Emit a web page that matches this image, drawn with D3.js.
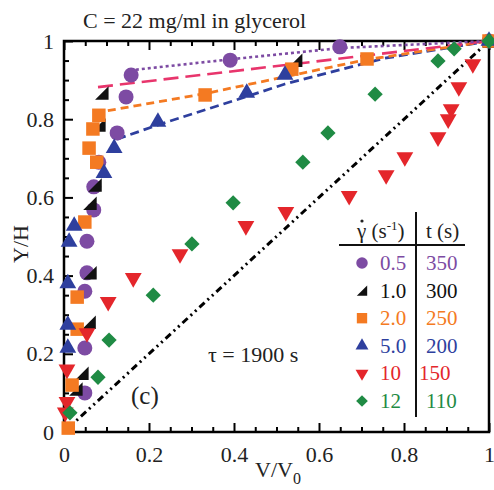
<!DOCTYPE html>
<html>
<head>
<meta charset="utf-8">
<script src="https://cdn.jsdelivr.net/npm/d3@7"></script>
<style>
  html, body { margin: 0; padding: 0; background: #fff; }
  svg { display: block; }
  svg text { font-family: "Liberation Serif", "Times New Roman", Times, "DejaVu Serif", serif !important; }
</style>
</head>
<body>
<svg id="chart" width="494" height="490"></svg>
<script>
// Velocity profiles V/V0 vs Y/H for several shear rates
const rates = ["0.5", "1.0", "2.0", "5.0", "10", "12"];
const times = ["350", "300", "250", "200", "150", "110"];
const colors = ["#7d4ba3", "#111111", "#f47a22", "#2e3f9e", "#e4262b", "#1f8b44"];
const shapes = ["circle", "wedge", "square", "triangle", "down", "diamond"];

const pts05 = [[0.049,0.10],[0.049,0.215],[0.049,0.36],[0.054,0.407],[0.054,0.488],[0.07,0.568],[0.07,0.627],[0.082,0.69],[0.125,0.765],[0.146,0.857],[0.158,0.913],[0.391,0.951],[0.649,0.985],[1,1]];
const pts10 = [[0.028,0.11],[0.042,0.15],[0.059,0.281],[0.061,0.407],[0.061,0.585],[0.073,0.632],[0.082,0.785],[0.089,0.867],[0.545,0.951],[1,1]];
const pts20 = [[0.01,0.01],[0.019,0.12],[0.031,0.263],[0.031,0.345],[0.049,0.537],[0.059,0.726],[0.068,0.775],[0.077,0.69],[0.082,0.81],[0.332,0.862],[0.536,0.928],[0.713,0.954],[1,1]];
const pts50 = [[0.009,0.215],[0.009,0.274],[0.009,0.38],[0.012,0.486],[0.024,0.527],[0.094,0.662],[0.118,0.726],[0.221,0.793],[0.43,0.867],[0.52,0.913],[1,1]];
const pts100 = [[0.003,0.05],[0.007,0.077],[0.007,0.16],[0.054,0.253],[0.104,0.333],[0.163,0.394],[0.273,0.455],[0.428,0.527],[0.522,0.563],[0.671,0.604],[0.758,0.657],[0.802,0.703],[0.88,0.754],[0.904,0.80],[0.911,0.826],[0.929,0.882],[0.962,0.941]];
const pts120 = [[0.014,0.049],[0.08,0.14],[0.106,0.235],[0.21,0.35],[0.301,0.481],[0.398,0.586],[0.562,0.69],[0.621,0.765],[0.732,0.864],[0.88,0.949],[0.918,0.98],[1,1]];
const seriesPts = [pts05, pts10, pts20, pts50, pts100, pts120];

// Fitted profiles in the plug-flow region and the Newtonian reference y = x
const fit05 = [[0.155,0.925],[0.39,0.953],[0.65,0.982],[1,1]];
const fit10 = [[0.08,0.882],[1,1]];
const fit20 = [[0.073,0.816],[0.33,0.865],[0.71,0.952],[1,1]];
const fit50 = [[0.125,0.749],[0.22,0.785],[0.43,0.858],[0.52,0.89],[0.75,0.955],[1,1]];
const linear = [[0,0],[1,1]];

const xTicks = [0, 0.2, 0.4, 0.6, 0.8, 1];
const yTicks = [0, 0.2, 0.4, 0.6, 0.8, 1];

const FONT = '"Liberation Serif", "Times New Roman", Times, "DejaVu Serif", serif';
const svg = d3.select("#chart").attr("font-family", FONT);
const x = d3.scaleLinear().domain([0, 1]).range([64, 489]);
const y = d3.scaleLinear().domain([0, 1]).range([432, 41]);
const line = d3.line().x(d => x(d[0])).y(d => y(d[1]));

// minor ticks every 0.05, inward
const minor = d3.range(0, 1.0001, 0.05);
const fmt = d => d === 0 || d === 1 ? String(d) : d.toFixed(1);

const gx = svg.append("g").attr("transform", `translate(0,${y(0)})`)
  .call(d3.axisBottom(x).tickValues(minor).tickSize(-5).tickFormat(""));
gx.select(".domain").remove();
gx.selectAll("line").attr("stroke", "#000").attr("stroke-width", 2)
  .attr("y2", (d, i) => (i % 4 === 0 ? -9 : -5));

const gxl = svg.append("g").attr("transform", `translate(0,${y(0)})`)
  .call(d3.axisBottom(x).tickValues(xTicks).tickSize(0).tickPadding(14).tickFormat(fmt))
  .attr("font-family", FONT);
gxl.select(".domain").remove();
gxl.selectAll("text").attr("font-size", 22).attr("fill", "#222");

const gt = svg.append("g").attr("transform", `translate(0,${y(1)})`)
  .call(d3.axisTop(x).tickValues(minor).tickSize(-5).tickFormat(""));
gt.select(".domain").remove();
gt.selectAll("line").attr("stroke", "#000").attr("stroke-width", 2)
  .attr("y2", (d, i) => (i % 4 === 0 ? 9 : 5));

const gy = svg.append("g").attr("transform", `translate(${x(0)},0)`)
  .call(d3.axisLeft(y).tickValues(minor).tickSize(-5).tickFormat(""));
gy.select(".domain").remove();
gy.selectAll("line").attr("stroke", "#000").attr("stroke-width", 2)
  .attr("x2", (d, i) => (i % 4 === 0 ? 9 : 5));

const gyl = svg.append("g").attr("transform", `translate(${x(0)},0)`)
  .call(d3.axisLeft(y).tickValues(yTicks).tickSize(0).tickPadding(10).tickFormat(fmt))
  .attr("font-family", FONT);
gyl.select(".domain").remove();
gyl.selectAll("text").attr("font-size", 22).attr("fill", "#222");

// frame
svg.append("rect")
  .attr("x", x(0)).attr("y", y(1))
  .attr("width", x(1) - x(0)).attr("height", y(0) - y(1))
  .attr("fill", "none").attr("stroke", "#000").attr("stroke-width", 2.5);

// lines
const lines = [
  { d: linear, c: "#000", w: 3, dash: "7,4,2,4,2,4" },
  { d: fit50, c: "#2e3f9e", w: 2.8, dash: "9,5" },
  { d: fit20, c: "#f47a22", w: 2.8, dash: "8,5" },
  { d: fit10, c: "#e8356c", w: 2.6, dash: "15,7" },
  { d: fit05, c: "#7d4ba3", w: 2.6, dash: "3,3" }
];
svg.append("g").selectAll("path").data(lines).join("path")
  .attr("d", l => line(l.d)).attr("fill", "none")
  .attr("stroke", l => l.c).attr("stroke-width", l => l.w)
  .attr("stroke-dasharray", l => l.dash);

// marker shapes
function markerPath(shape, s) {
  switch (shape) {
    case "circle": return d3.symbol(d3.symbolCircle, Math.PI * (s * 0.5) ** 2)();
    case "square": return d3.symbol(d3.symbolSquare, (s * 0.9) ** 2)();
    case "triangle": return d3.symbol(d3.symbolTriangle, (Math.sqrt(3) / 4) * (s * 1.12) ** 2)();
    case "down": return d3.symbol(d3.symbolTriangle, (Math.sqrt(3) / 4) * (s * 1.12) ** 2)();
    case "diamond": return d3.symbol(d3.symbolSquare, (s * 0.72) ** 2)();
    case "wedge": {
      const h = s * 0.45;
      return `M${-h},${h}L${h},${h}L${h},${-h}Z`;
    }
  }
}
function markerRot(shape) {
  return shape === "down" ? 180 : shape === "diamond" ? 45 : 0;
}

const gPts = svg.append("g");
seriesPts.forEach((pts, i) => {
  gPts.append("g").selectAll("path").data(pts).join("path")
    .attr("d", markerPath(shapes[i], 15))
    .attr("transform", d => `translate(${x(d[0])},${y(d[1])}) rotate(${markerRot(shapes[i])})`)
    .attr("fill", colors[i]);
});

// title and annotations
svg.append("text").attr("x", 83).attr("y", 28).attr("font-size", 22).attr("fill", "#222")
  .text("C = 22 mg/ml in glycerol");
svg.append("text").attr("x", 131).attr("y", 404).attr("font-size", 25).attr("fill", "#222")
  .text("(c)");
svg.append("text").attr("x", 208).attr("y", 362).attr("font-size", 22).attr("fill", "#222")
  .text("τ = 1900 s");

// axis titles
svg.append("text").attr("transform", "translate(28,244) rotate(-90)")
  .attr("text-anchor", "middle").attr("font-size", 22).attr("fill", "#222").text("Y/H");
const xt = svg.append("text").attr("x", 278).attr("y", 477).attr("text-anchor", "middle")
  .attr("font-size", 22).attr("fill", "#222");
xt.append("tspan").text("V/V");
xt.append("tspan").attr("font-size", 16).attr("dy", 7).text("0");

// legend table
const lg = svg.append("g");
lg.append("line").attr("x1", 416).attr("x2", 416).attr("y1", 212).attr("y2", 417)
  .attr("stroke", "#111").attr("stroke-width", 2);
lg.append("line").attr("x1", 339).attr("x2", 465).attr("y1", 245).attr("y2", 245)
  .attr("stroke", "#111").attr("stroke-width", 2);
const hdr = lg.append("text").attr("x", 357).attr("y", 238).attr("font-size", 21).attr("fill", "#222");
hdr.append("tspan").text("γ");
hdr.append("tspan").text(" (s");
hdr.append("tspan").attr("font-size", 13).attr("dy", -8).text("-1");
hdr.append("tspan").attr("dy", 8).text(")");
// dot over the gamma (shear rate)
lg.append("circle").attr("cx", 362).attr("cy", 221).attr("r", 1.6).attr("fill", "#222");
lg.append("text").attr("x", 426).attr("y", 238).attr("font-size", 21).attr("fill", "#222").text("t (s)");

const rowY = d3.scaleLinear().domain([0, 5]).range([263, 401]);
rates.forEach((r, i) => {
  const cy = rowY(i);
  lg.append("path").attr("d", markerPath(shapes[i], 11.5))
    .attr("transform", `translate(362,${cy}) rotate(${markerRot(shapes[i])})`)
    .attr("fill", colors[i]);
  lg.append("text").attr("x", 380).attr("y", cy + 7).attr("font-size", 21)
    .attr("fill", colors[i]).text(r);
  lg.append("text").attr("x", i === 4 ? 419 : 426).attr("y", cy + 7).attr("font-size", 21)
    .attr("fill", colors[i]).text(times[i]);
});
</script>
</body>
</html>
